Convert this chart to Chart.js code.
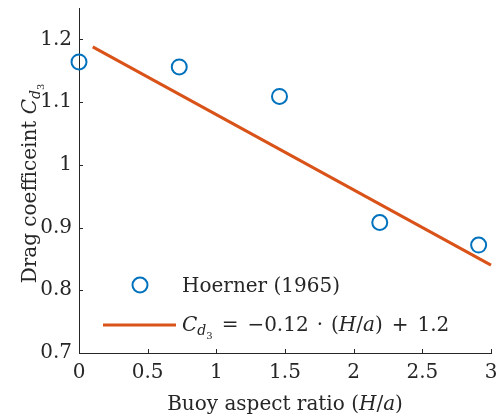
<!DOCTYPE html>
<html>
<head>
<meta charset="utf-8">
<script src="https://cdn.jsdelivr.net/npm/chart.js@4"></script>
<style>
	html, body { margin: 0; padding: 0; background: #fff; }
	#wrap { width: 496px; height: 419px; }
</style>
</head>
<body>
<div id="wrap"><canvas id="dragChart" width="496" height="419"></canvas></div>
<script>
// measured drag coefficients vs buoy aspect ratio
const aspectRatio = [0, 0.73, 1.46, 2.19, 2.91];
const dragCoef = [1.164, 1.156, 1.109, 0.908, 0.872];

// linear fit endpoints
const fitX = [0.1, 3];
const fitY = [1.188, 0.84];

const xTicks = [0, 0.5, 1, 1.5, 2, 2.5, 3];
const yTicks = [0.7, 0.8, 0.9, 1, 1.1, 1.2];

const blue = "#0072BD";
const orange = "#D95319";
const serif = "'DejaVu Serif', 'Liberation Serif', serif";
const fs = 20;

// draws a run of text pieces (italic / subscript) left to right
function drawRich(ctx, parts, x, y) {
	parts.forEach(p => {
		ctx.font = (p.it ? "italic " : "") + (p.size || fs) + "px " + serif;
		ctx.fillText(p.t, x, y + (p.dy || 0));
		x += ctx.measureText(p.t).width + (p.gap || 0);
	});
	return x;
}

function richWidth(ctx, parts) {
	let w = 0;
	parts.forEach(p => {
		ctx.font = (p.it ? "italic " : "") + (p.size || fs) + "px " + serif;
		w += ctx.measureText(p.t).width + (p.gap || 0);
	});
	return w;
}

const cd3 = [
	{t: "C", it: true},
	{t: "d", it: true, size: 14, dy: 4},
	{t: "3", size: 10, dy: 8}
];

const extras = {
	id: "extras",
	afterDraw(chart) {
		const ctx = chart.ctx;
		const area = chart.chartArea;
		const xs = chart.scales.x, ys = chart.scales.y;
		ctx.save();
		ctx.strokeStyle = "#262626";
		ctx.lineWidth = 1;
		// inward tick marks
		ctx.beginPath();
		xs.ticks.forEach(t => {
			const px = Math.round(xs.getPixelForValue(t.value)) + 0.5;
			ctx.moveTo(px, area.bottom);
			ctx.lineTo(px, area.bottom - 4);
		});
		ys.ticks.forEach(t => {
			const py = Math.round(ys.getPixelForValue(t.value)) + 0.5;
			ctx.moveTo(area.left, py);
			ctx.lineTo(area.left + 4, py);
		});
		ctx.stroke();

		ctx.fillStyle = "#262626";
		ctx.textBaseline = "alphabetic";
		ctx.textAlign = "left";

		// x axis title
		const xt = [
			{t: "Buoy aspect ratio ("},
			{t: "H", it: true},
			{t: "/"},
			{t: "a", it: true},
			{t: ")"}
		];
		drawRich(ctx, xt, (area.left + area.right) / 2 - richWidth(ctx, xt) / 2, 410);

		// y axis title
		const yt = [{t: "Drag coefficeint "}].concat(cd3);
		ctx.save();
		ctx.translate(36, (area.top + area.bottom) / 2 + 3);
		ctx.rotate(-Math.PI / 2);
		drawRich(ctx, yt, -richWidth(ctx, yt) / 2, 0);
		ctx.restore();

		// legend
		const ds0 = chart.data.datasets[0];
		const ds1 = chart.data.datasets[1];
		const lx = area.left + 24, tx = area.left + 103;
		const r1 = area.bottom - 68, r2 = area.bottom - 28;
		ctx.strokeStyle = ds0.borderColor;
		ctx.lineWidth = ds0.borderWidth;
		ctx.beginPath();
		ctx.arc(lx + 37, r1, ds0.pointRadius, 0, Math.PI * 2);
		ctx.stroke();
		ctx.strokeStyle = ds1.borderColor;
		ctx.lineWidth = ds1.borderWidth;
		ctx.beginPath();
		ctx.moveTo(lx, r2);
		ctx.lineTo(lx + 73, r2);
		ctx.stroke();

		ctx.fillStyle = "#262626";
		drawRich(ctx, [{t: ds0.label}], tx, r1 + 7);
		drawRich(ctx, [
			{t: "C", it: true},
			{t: "d", it: true, size: 14, dy: 4},
			{t: "3", size: 10, dy: 8, gap: 9},
			{t: "=", gap: 9},
			{t: "\u22120.12", gap: 8},
			{t: "\u00b7", gap: 8},
			{t: "("},
			{t: "H", it: true},
			{t: "/"},
			{t: "a", it: true},
			{t: ")", gap: 9},
			{t: "+", gap: 9},
			{t: "1.2"}
		], tx, r2 + 6);
		ctx.restore();
	}
};

const tickNum = v => String(Number(v.toFixed(2)));

new Chart(document.getElementById("dragChart"), {
	type: "scatter",
	data: {
		datasets: [{
			label: "Hoerner (1965)",
			data: aspectRatio.map((x, i) => ({x: x, y: dragCoef[i]})),
			showLine: false,
			pointRadius: 7.5,
			pointHoverRadius: 7.5,
			borderWidth: 2,
			borderColor: blue,
			backgroundColor: "rgba(0,0,0,0)",
			clip: false,
			order: 1
		},
		{
			type: "line",
			label: "fit",
			data: fitX.map((x, i) => ({x: x, y: fitY[i]})),
			borderColor: orange,
			borderWidth: 3,
			pointRadius: 0,
			fill: false,
			clip: false,
			order: 2
		}]
	},
	options: {
		responsive: false,
		animation: false,
		layout: { autoPadding: false, padding: { top: 8, right: 5, left: 0, bottom: 0 } },
		plugins: {
			legend: { display: false },
			tooltip: { enabled: false }
		},
		scales: {
			x: {
				type: "linear",
				min: 0,
				max: 3,
				afterBuildTicks: s => { s.ticks = xTicks.map(v => ({value: v})); },
				afterFit: s => { s.height = 66; s.paddingLeft = 0; s.paddingRight = 0; },
				grid: { display: false, drawTicks: false },
				border: { display: true, color: "#262626", width: 1 },
				ticks: {
					color: "#262626",
					padding: 8,
					maxRotation: 0,
					font: { family: serif, size: fs },
					callback: tickNum
				}
			},
			y: {
				type: "linear",
				min: 0.7,
				max: 1.25,
				afterBuildTicks: s => { s.ticks = yTicks.map(v => ({value: v})); },
				afterFit: s => { s.width = 79; s.paddingTop = 0; s.paddingBottom = 0; },
				grid: { display: false, drawTicks: false },
				border: { display: true, color: "#262626", width: 1 },
				ticks: {
					color: "#262626",
					padding: 7,
					font: { family: serif, size: fs },
					callback: tickNum
				}
			}
		}
	},
	plugins: [extras]
});
</script>
</body>
</html>
